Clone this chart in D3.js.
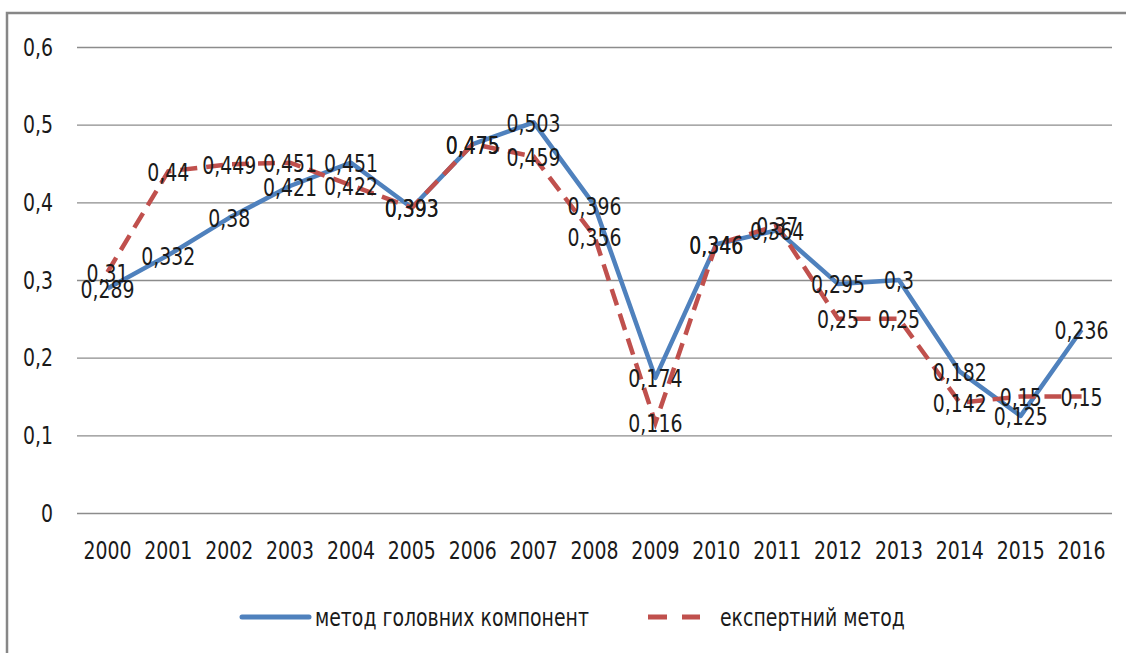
<!DOCTYPE html>
<html>
<head>
<meta charset="utf-8">
<script src="https://cdn.jsdelivr.net/npm/d3@7"></script>
<style>
  html, body { margin: 0; padding: 0; background: #fff; }
  svg text { font-family: "Liberation Sans Narrow", "DejaVu Sans Condensed", "Open Sans", sans-serif; fill: #1a1a1a;
             transform-box: fill-box; transform: scaleX(0.84); transform-origin: center; }
  svg text.left { transform-origin: left center; }
  svg text.right { transform-origin: right center; }
</style>
</head>
<body>
<svg id="chart" width="1126" height="653"></svg>
<script>
  var years = ["2000", "2001", "2002", "2003", "2004", "2005", "2006", "2007", "2008",
               "2009", "2010", "2011", "2012", "2013", "2014", "2015", "2016"];
  var principal = [0.289, 0.332, 0.38, 0.421, 0.451, 0.393, 0.475, 0.503, 0.396,
                   0.174, 0.346, 0.364, 0.295, 0.3, 0.182, 0.125, 0.236];
  var expert = [0.31, 0.44, 0.449, 0.451, 0.422, 0.393, 0.475, 0.459, 0.356,
                0.116, 0.346, 0.37, 0.25, 0.25, 0.142, 0.15, 0.15];
  var yTicks = [0, 0.1, 0.2, 0.3, 0.4, 0.5, 0.6];
  var seriesNames = ["метод головних компонент", "експертний метод"];

  var svg = d3.select("#chart");
  var fmt = function(v) { return String(v).replace(".", ","); };

  // chart frame (clipped by the window on the right and bottom)
  svg.append("rect")
      .attr("x", 7).attr("y", 13)
      .attr("width", 1140).attr("height", 660)
      .attr("fill", "none").attr("stroke", "#878787").attr("stroke-width", 2.5);

  var x = d3.scaleBand().domain(years).range([77, 1112]);
  var y = d3.scaleLinear().domain([0, 0.6]).range([513, 47]);

  // gridlines + y labels
  var yAxis = d3.axisLeft(y).tickValues(yTicks).tickSize(-(1112 - 77)).tickPadding(24)
      .tickFormat(function(d) { return d === 0 ? "0" : fmt(d3.format(".1f")(d)); });
  var gy = svg.append("g").attr("transform", "translate(77,0)").call(yAxis);
  gy.select(".domain").remove();
  gy.selectAll("line").attr("stroke", "#8c8c8c").attr("stroke-width", 1.3);
  gy.selectAll("text").attr("class", "right").attr("font-size", 25).attr("fill", "#1a1a1a");

  // x labels
  var xAxis = d3.axisBottom(x).tickSize(0).tickPadding(28);
  var gx = svg.append("g").attr("transform", "translate(0,513)").call(xAxis);
  gx.select(".domain").remove();
  gx.selectAll("text").attr("font-size", 25).attr("fill", "#1a1a1a");

  var line = d3.line()
      .x(function(d, i) { return x(years[i]) + x.bandwidth() / 2; })
      .y(function(d) { return y(d); });

  svg.append("path")
      .attr("d", line(principal))
      .attr("fill", "none").attr("stroke", "#4f81bd")
      .attr("stroke-width", 4.5).attr("stroke-linejoin", "round");

  svg.append("path")
      .attr("d", line(expert))
      .attr("fill", "none").attr("stroke", "#c0504d")
      .attr("stroke-width", 4.5).attr("stroke-dasharray", "17,9");

  // data labels centred on the points
  [principal, expert].forEach(function(vals) {
    svg.append("g").selectAll("text")
        .data(vals)
        .enter().append("text")
        .attr("x", function(d, i) { return x(years[i]) + x.bandwidth() / 2; })
        .attr("y", function(d) { return y(d); })
        .attr("dy", "0.38em")
        .attr("text-anchor", "middle")
        .attr("font-size", 25)
        .text(fmt);
  });

  // legend
  var lg = svg.append("g").attr("transform", "translate(0,617)");
  lg.append("line").attr("x1", 242).attr("x2", 309)
      .attr("stroke", "#4f81bd").attr("stroke-width", 5).attr("stroke-linecap", "round");
  lg.append("text").attr("class", "left").attr("x", 315).attr("dy", "0.35em").attr("font-size", 25).text(seriesNames[0]);
  lg.append("line").attr("x1", 648).attr("x2", 700)
      .attr("stroke", "#c0504d").attr("stroke-width", 5).attr("stroke-dasharray", "19,15");
  lg.append("text").attr("class", "left").attr("x", 720).attr("dy", "0.35em").attr("font-size", 25).text(seriesNames[1]);
</script>
</body>
</html>
